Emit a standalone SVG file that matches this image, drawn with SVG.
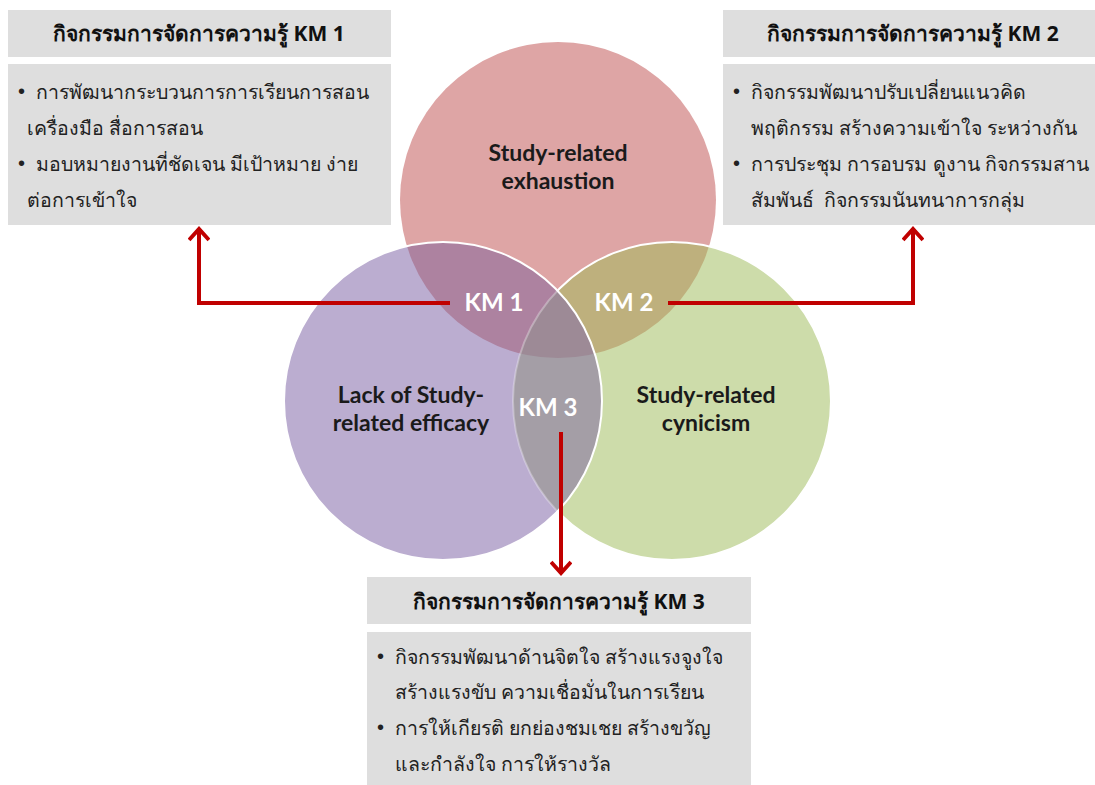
<svg xmlns="http://www.w3.org/2000/svg" width="1095" height="785" viewBox="0 0 1095 785">
<style>
.box{fill:#DEDEDE}
.hdr{font-family:"Noto Sans","DejaVu Sans",sans-serif;font-weight:bold;font-size:21px;fill:#111;text-anchor:middle}
.body{font-family:"Noto Sans","DejaVu Sans",sans-serif;font-weight:300;font-size:19.5px;fill:#222}
.bul{font-family:"Liberation Sans",sans-serif;font-size:20px;fill:#222}
.lbl{font-family:Lato,"Open Sans",sans-serif;font-weight:bold;font-size:23px;fill:#1a1a1a;text-anchor:middle}
.km{font-family:Lato,"Open Sans",sans-serif;font-weight:bold;font-size:24px;fill:#fff;text-anchor:middle}
.conn{fill:none;stroke:#C00000;stroke-width:4;marker-end:url(#arr)}
</style>
<defs>
<clipPath id="cR"><circle cx="558" cy="200" r="158"/></clipPath>
<clipPath id="cP"><circle cx="443" cy="401" r="159"/></clipPath>
<clipPath id="cG"><circle cx="672" cy="401" r="159"/></clipPath>
<mask id="notP"><rect width="1095" height="785" fill="#fff"/><circle cx="443" cy="401" r="159" fill="#000"/></mask>
<marker id="arr" markerUnits="userSpaceOnUse" viewBox="0 0 22 22" markerWidth="22" markerHeight="22" refX="18" refY="11" orient="auto">
<path d="M7,1 L18,11 L7,21" fill="none" stroke="#C00000" stroke-width="4"/>
</marker>
</defs>

<g id="venn">
<circle cx="558" cy="200" r="158" fill="#DEA5A5"/>
<circle cx="672" cy="401" r="159" fill="#CDDCAA"/>
<circle cx="443" cy="401" r="159" fill="#BBADD0"/>
<g clip-path="url(#cR)">
<circle cx="672" cy="401" r="159" fill="#BEB07D"/>
<circle cx="443" cy="401" r="159" fill="#AD82A0"/>
</g>
<g clip-path="url(#cG)">
<circle cx="443" cy="401" r="159" fill="#A49EA6"/>
<g clip-path="url(#cR)"><circle cx="443" cy="401" r="159" fill="#9D8A96"/></g>
</g>
<circle cx="672" cy="401" r="159" fill="none" stroke="#fff" stroke-width="2" mask="url(#notP)"/>
<circle cx="672" cy="401" r="159" fill="none" stroke="#fff" stroke-opacity="0.3" stroke-width="2" clip-path="url(#cP)"/>
<circle cx="443" cy="401" r="159" fill="none" stroke="#fff" stroke-width="2"/>
</g>

<g id="exhaustion">
<text class="lbl" x="558" y="161">Study-related</text>
<text class="lbl" x="558" y="189">exhaustion</text>
</g>
<g id="efficacy">
<text class="lbl" x="411" y="403">Lack of Study-</text>
<text class="lbl" x="411" y="431">related efficacy</text>
</g>
<g id="cynicism">
<text class="lbl" x="706" y="403">Study-related</text>
<text class="lbl" x="706" y="431">cynicism</text>
</g>
<g id="km1"><text class="km" x="494" y="311">KM 1</text></g>
<g id="km2"><text class="km" x="624" y="311">KM 2</text></g>
<g id="km3"><text class="km" x="548" y="416">KM 3</text></g>

<g id="connectors">
<path class="conn" d="M450,303 H199 V229"/>
<path class="conn" d="M668,303 H913 V229"/>
<path class="conn" d="M561,432 V573"/>
</g>

<g id="box1">
<rect class="box" x="8" y="10" width="383" height="47"/>
<rect class="box" x="8" y="64" width="383" height="161"/>
<text class="hdr" x="199" y="41">กิจกรรมการจัดการความรู้ KM 1</text>
<text class="bul" x="18" y="98">•</text>
<text class="body" x="36" y="99">การพัฒนากระบวนการการเรียนการสอน</text>
<text class="body" x="27" y="135">เครื่องมือ สื่อการสอน</text>
<text class="bul" x="18" y="170">•</text>
<text class="body" x="36" y="171">มอบหมายงานที่ชัดเจน มีเป้าหมาย ง่าย</text>
<text class="body" x="27" y="207">ต่อการเข้าใจ</text>
</g>

<g id="box2">
<rect class="box" x="723" y="10" width="372" height="47"/>
<rect class="box" x="723" y="64" width="372" height="161"/>
<text class="hdr" x="913" y="41">กิจกรรมการจัดการความรู้ KM 2</text>
<text class="bul" x="733" y="98">•</text>
<text class="body" x="751" y="99">กิจกรรมพัฒนาปรับเปลี่ยนแนวคิด</text>
<text class="body" x="751" y="135">พฤติกรรม สร้างความเข้าใจ ระหว่างกัน</text>
<text class="bul" x="733" y="170">•</text>
<text class="body" x="751" y="171" textLength="338" lengthAdjust="spacingAndGlyphs">การประชุม การอบรม ดูงาน กิจกรรมสาน</text>
<text class="body" x="751" y="207" xml:space="preserve">สัมพันธ์  กิจกรรมนันทนาการกลุ่ม</text>
</g>

<g id="box3">
<rect class="box" x="367" y="577" width="384" height="47"/>
<rect class="box" x="367" y="632" width="384" height="153"/>
<text class="hdr" x="559" y="609">กิจกรรมการจัดการความรู้ KM 3</text>
<text class="bul" x="377" y="663">•</text>
<text class="body" x="395" y="664">กิจกรรมพัฒนาด้านจิตใจ สร้างแรงจูงใจ</text>
<text class="body" x="395" y="699">สร้างแรงขับ ความเชื่อมั่นในการเรียน</text>
<text class="bul" x="377" y="734">•</text>
<text class="body" x="395" y="735">การให้เกียรติ ยกย่องชมเชย สร้างขวัญ</text>
<text class="body" x="395" y="771">และกำลังใจ การให้รางวัล</text>
</g>
</svg>
